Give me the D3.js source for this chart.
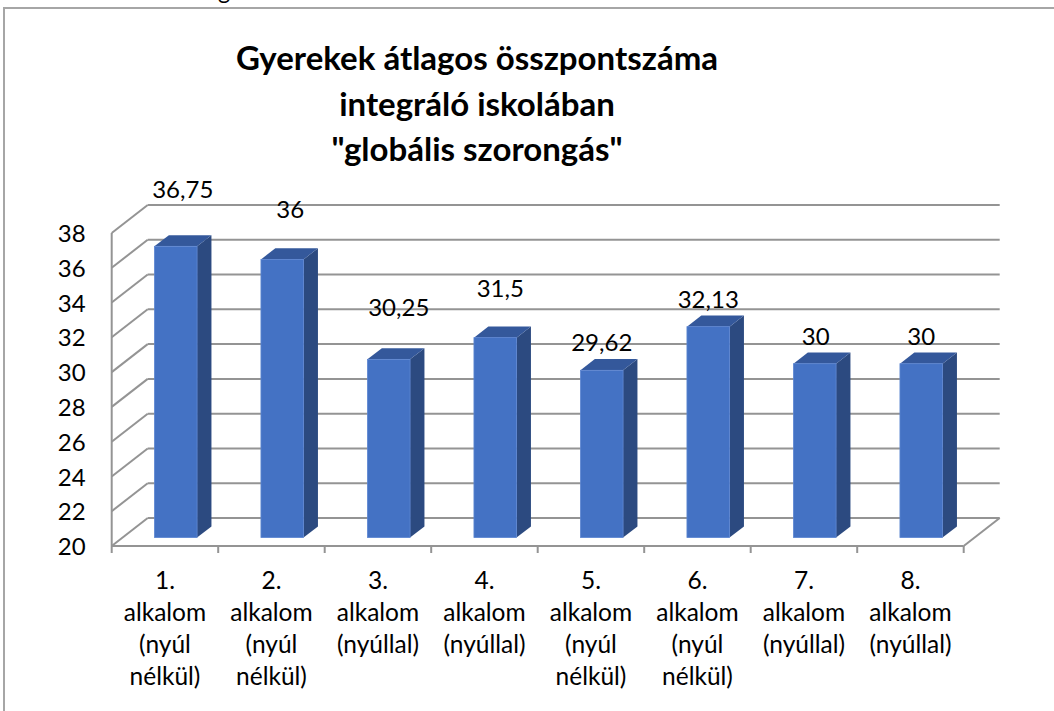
<!DOCTYPE html>
<html>
<head>
<meta charset="utf-8">
<script src="https://cdn.jsdelivr.net/npm/d3@7"></script>
<style>
  html, body { margin: 0; padding: 0; background: #fff; }
  svg { display: block; }
  text { font-family: Lato, "Open Sans", sans-serif; fill: #000; }
</style>
</head>
<body>
<svg id="chart" width="1054" height="711"></svg>
<script>
// ---- data ----
const titleLines = ["Gyerekek átlagos összpontszáma", "integráló iskolában", "\"globális szorongás\""];
const categories = [
  "1. alkalom (nyúl nélkül)",
  "2. alkalom (nyúl nélkül)",
  "3. alkalom (nyúllal)",
  "4. alkalom (nyúllal)",
  "5. alkalom (nyúl nélkül)",
  "6. alkalom (nyúl nélkül)",
  "7. alkalom (nyúllal)",
  "8. alkalom (nyúllal)"
];
const values = [36.75, 36, 30.25, 31.5, 29.62, 32.13, 30, 30];
const valueLabels = ["36,75", "36", "30,25", "31,5", "29,62", "32,13", "30", "30"];
const yTicks = [20, 22, 24, 26, 28, 30, 32, 34, 36, 38];

// ---- layout (not data) ----
const labelDx = [7, 8, 10, 5, 0, 0, 1, 0];
const labelDy = [-48, -41, -43, -41, -19, -19, -19, -19];
const depthX = 36, depthY = -28;
const z0 = 0.3, z1 = 0.7;

const svg = d3.select("#chart");

// chart frame
svg.append("path")
  .attr("d", "M4,711 L4,8 L1054,8")
  .attr("fill", "none").attr("stroke", "#a6a6a6").attr("stroke-width", 2);
svg.append("text").attr("x", 224).attr("y", -1).attr("text-anchor", "middle")
  .style("font-size", "23.5px").text("g");

// scales
const x = d3.scaleBand().domain(categories).range([111.7, 963.7]).padding(0);
const y = d3.scaleLinear().domain([20, 38]).range([546, 233]);

const grid = svg.append("g").attr("stroke", "#949494").attr("stroke-width", 2).attr("fill", "none");
const [x0, x1] = x.range();
// back wall gridlines + side wall diagonals
yTicks.forEach(t => {
  grid.append("line").attr("x1", x0 + depthX).attr("y1", y(t) + depthY)
    .attr("x2", x1 + depthX).attr("y2", y(t) + depthY);
  grid.append("line").attr("x1", x0).attr("y1", y(t))
    .attr("x2", x0 + depthX).attr("y2", y(t) + depthY);
});
// floor right edge
grid.append("line").attr("x1", x1).attr("y1", y(20)).attr("x2", x1 + depthX).attr("y2", y(20) + depthY);
// front axes
grid.append("line").attr("x1", x0).attr("y1", y(20)).attr("x2", x1).attr("y2", y(20));
grid.append("line").attr("x1", x0).attr("y1", y(20)).attr("x2", x0).attr("y2", y(38));
// category boundary ticks
d3.range(categories.length + 1).forEach(i => {
  const xx = x0 + i * x.bandwidth();
  grid.append("line").attr("x1", xx).attr("y1", y(20)).attr("x2", xx).attr("y2", y(20) + 7);
});

// y axis labels
const yAxis = svg.append("g").attr("transform", `translate(${x0},0)`)
  .call(d3.axisLeft(y).tickValues(yTicks).tickSize(0).tickPadding(26).tickFormat(d3.format("d")));
yAxis.select(".domain").remove();
yAxis.selectAll("text").style("font-size", "24px").style("font-family", "Lato, sans-serif")
  .attr("fill", "#000").attr("dy", "0.36em");

// x axis labels (multi-line)
const xAxis = svg.append("g").attr("transform", `translate(0,${y(20)})`)
  .call(d3.axisBottom(x).tickSize(0).tickPadding(0));
xAxis.select(".domain").remove();
xAxis.selectAll("text").each(function(d) {
  const t = d3.select(this);
  t.text(null).attr("y", 0).attr("dy", null)
    .style("font-size", "24.5px").style("font-family", "Lato, sans-serif").attr("fill", "#000");
  d.split(" ").forEach((w, i) => {
    t.append("tspan").attr("x", 0).attr("y", 43.3 + i * 31.8).text(w);
  });
});

// bars
const bw = x.bandwidth() * 0.4;
const ddx = depthX * (z1 - z0), ddy = depthY * (z1 - z0);
const bars = svg.append("g");
categories.forEach((c, i) => {
  const xl = x(c) + x.bandwidth() * 0.3 + depthX * z0;
  const xr = xl + bw;
  const yb = y(20) + depthY * z0;
  const yt = y(values[i]) + depthY * z0;
  const g = bars.append("g");
  g.append("polygon")
    .attr("points", [[xr, yt], [xr + ddx, yt + ddy], [xr + ddx, yb + ddy], [xr, yb]].join(" "))
    .attr("fill", "#2c4a80");
  g.append("polygon")
    .attr("points", [[xl, yt], [xr, yt], [xr + ddx, yt + ddy], [xl + ddx, yt + ddy]].join(" "))
    .attr("fill", "#34589b");
  g.append("rect").attr("x", xl).attr("y", yt).attr("width", bw).attr("height", yb - yt)
    .attr("fill", "#4472c4").attr("stroke", "#5d86d2").attr("stroke-width", 0.8);
  svg.append("text")
    .attr("x", (xl + xr) / 2 + labelDx[i]).attr("y", yt + labelDy[i])
    .attr("text-anchor", "middle").style("font-size", "24px").text(valueLabels[i]);
});

// title
const title = svg.append("text").attr("text-anchor", "middle")
  .style("font-size", "33px").style("font-weight", "bold");
titleLines.forEach((l, i) => {
  title.append("tspan").attr("x", 477).attr("y", 70 + i * 45.5).text(l);
});
</script>
</body>
</html>
